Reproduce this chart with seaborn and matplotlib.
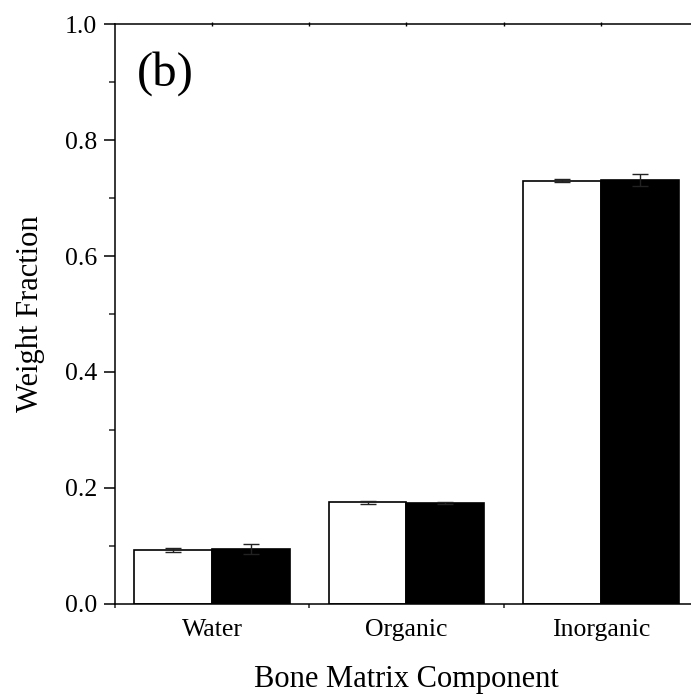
import matplotlib
matplotlib.use("Agg")
import matplotlib.pyplot as plt
from matplotlib.ticker import MultipleLocator, FixedLocator, NullFormatter
import numpy as np
import pandas as pd
import seaborn as sns

# Bone matrix composition: weight fractions for two sample groups
components = ["Water", "Organic", "Inorganic"]
groups = ["Group A", "Group B"]
fraction_a = [0.093, 0.175, 0.730]
fraction_b = [0.095, 0.174, 0.731]
error_a = [0.003, 0.003, 0.002]
error_b = [0.008, 0.002, 0.010]

df = pd.DataFrame({
    "component": components * 2,
    "group": [groups[0]] * 3 + [groups[1]] * 3,
    "fraction": fraction_a + fraction_b,
    "err": error_a + error_b,
})

sns.set_theme(style="white")
plt.rcParams["font.family"] = ["Liberation Serif", "DejaVu Serif"]

fig = plt.figure(figsize=(6.91, 6.94), dpi=100)
ax = fig.add_axes([0.1664, 0.1297, 0.8437, 0.8357])

sns.barplot(
    data=df, x="component", y="fraction", hue="group",
    order=components, hue_order=groups,
    palette=["white", "black"], edgecolor="black", linewidth=1.2,
    width=0.8, errorbar=None, legend=False, ax=ax, zorder=2,
)

# error bars centred on each drawn bar
for patch, (_, row) in zip(ax.patches, df.iterrows()):
    xc = patch.get_x() + patch.get_width() / 2
    ax.errorbar(xc, row["fraction"], yerr=row["err"], fmt="none",
                ecolor="#222222", elinewidth=1.0, capsize=5.5, capthick=1.0,
                zorder=3)

ax.set_xlim(-0.5, 2.5)
ax.set_ylim(0.0, 1.0)

ax.yaxis.set_major_locator(MultipleLocator(0.2))
ax.yaxis.set_minor_locator(MultipleLocator(0.1))
ax.yaxis.set_major_formatter(matplotlib.ticker.FormatStrFormatter("%.1f"))
ax.tick_params(axis="y", which="major", direction="out", length=8, width=1.1,
               labelsize=18.5, pad=5, left=True, right=False, colors="black")
ax.tick_params(axis="y", which="minor", direction="out", length=4, width=1.1,
               left=True, right=False)

ax.xaxis.set_minor_locator(FixedLocator([-0.5, 0.5, 1.5]))
ax.tick_params(axis="x", which="major", length=0, labelsize=18.5, pad=11,
               bottom=True, top=False, colors="black")
ax.tick_params(axis="x", which="minor", direction="out", length=3, width=1.1,
               bottom=True, top=False)

for side in ["left", "bottom", "top", "right"]:
    ax.spines[side].set_color("black")
    ax.spines[side].set_linewidth(1.1)

# small ticks along the top border
top = ax.twiny()
top.set_xlim(ax.get_xlim())
top.xaxis.set_major_locator(FixedLocator([0, 0.5, 1, 1.5, 2]))
top.xaxis.set_major_formatter(NullFormatter())
top.tick_params(axis="x", which="major", direction="inout", length=3, width=1.0,
                top=True, bottom=False, colors="black")
for side in ["left", "bottom", "top", "right"]:
    top.spines[side].set_visible(False)

ax.set_xlabel("Bone Matrix Component", fontsize=22, labelpad=17, color="black")
ax.set_ylabel("Weight Fraction", fontsize=22, labelpad=14, color="black")

ax.text(0.038, 0.953, "(b)", transform=ax.transAxes, fontsize=35,
        ha="left", va="top", color="black")

fig.savefig("out.png", dpi=100)
